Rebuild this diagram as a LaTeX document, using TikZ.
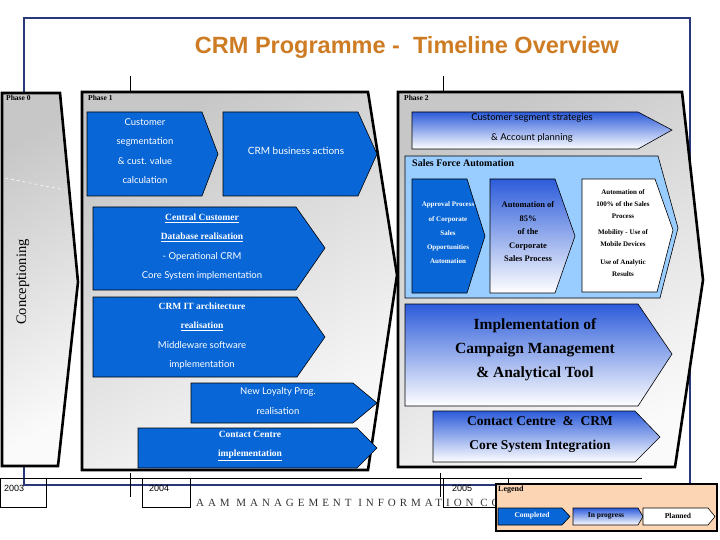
\documentclass[tikz,border=0pt]{standalone}
\usepackage{fontspec}
\setmainfont{Liberation Serif}
\newfontfamily\titlefont{Liberation Sans}
\newfontfamily\lightfont{Lato}
\newfontfamily\footfont[LetterSpace=36]{Liberation Serif}
\usetikzlibrary{shapes,arrows}
\definecolor{navy}{RGB}{40,56,120}
\definecolor{crmorange}{RGB}{206,124,36}
\definecolor{doneblue}{RGB}{8,102,214}
\definecolor{busyblue}{RGB}{45,92,218}
\definecolor{sfablue}{RGB}{153,204,255}
\definecolor{peach}{RGB}{252,214,180}

\begin{document}
\begin{tikzpicture}[x=1pt, y=1pt, line join=miter,
    phasebox/.style={draw=black, line width=2.6pt, top color=black!22, bottom color=black!2, shading angle=30},
    done/.style={draw=black, line width=0.6pt, fill=doneblue},
    busy/.style={draw=black, line width=0.6pt, top color=busyblue, bottom color=white},
    todo/.style={draw=black, line width=0.6pt, fill=white},
    phaselabel/.style={anchor=west, inner sep=0pt, font=\bfseries\fontsize{7.5}{8}\selectfont},
    yearbox/.style={draw=black, line width=0.5pt},
    lighttxt/.style={align=center, inner sep=0pt, text=white, font=\lightfont\fontsize{9.5}{19.3}\selectfont},
    boldtxt/.style={align=center, inner sep=0pt, font=\bfseries}]
  \useasboundingbox (0,0) rectangle (720,-540);
  % Rahmen
  \draw[navy, line width=2.4pt] (24,-18) rectangle (690,-485);
  \node[text=crmorange, font=\titlefont\bfseries\fontsize{23.5}{25}\selectfont] (title) at (407,-47) {CRM Programme -~ Timeline Overview};
  \draw[line width=0.5pt] (0,-478) -- (642,-478);
  \draw[line width=0.5pt] (130,-76) -- (130,-92) (443,-76) -- (443,-92);
  \draw[line width=0.5pt] (130,-473) -- (130,-497) (440,-473) -- (440,-497);

  % Phase 0
  \draw[phasebox] (2,-93) -- (60,-93) -- (78,-282) -- (58,-466) -- (2,-466) -- cycle;
  \draw[white, dashed, line width=0.5pt] (5,-178) -- (65,-190);
  \node[phaselabel] (ph0) at (6,-98) {Phase 0};
  \node[rotate=90, font=\fontsize{14.5}{16}\selectfont] (concept) at (23,-282) {Conceptioning};

  % Phase 1
  \draw[phasebox] (82,-92) -- (368,-92) -- (397,-275) -- (368,-470) -- (82,-470) -- cycle;
  \node[phaselabel] (ph1) at (88,-98) {Phase 1};
  \draw[done] (87,-112) -- (202,-112) -- (218,-154) -- (202,-196) -- (87,-196) -- cycle;
  \node[lighttxt] (segment) at (145,-151) {Customer\\segmentation\\\& cust. value\\calculation};
  \draw[done] (223,-112) -- (358,-112) -- (377,-154) -- (358,-196) -- (223,-196) -- cycle;
  \node[lighttxt, font=\lightfont\fontsize{10}{12}\selectfont] (busact) at (296,-151) {CRM business actions};
  \draw[done] (93,-207) -- (296,-207) -- (325,-248) -- (296,-290) -- (93,-290) -- cycle;
  \node[lighttxt] (ccdb) at (202,-247) {{\rmfamily\bfseries\underline{Central Customer}}\\{\rmfamily\bfseries\underline{Database realisation}}\\- Operational CRM\\Core System implementation};
  \draw[done] (93,-297) -- (297,-297) -- (325,-337) -- (297,-377) -- (93,-377) -- cycle;
  \node[lighttxt] (itarch) at (202,-336) {{\rmfamily\bfseries CRM IT architecture}\\{\rmfamily\bfseries\underline{realisation}}\\Middleware software\\implementation};
  \draw[done] (191,-383) -- (353,-383) -- (377,-403) -- (353,-423) -- (191,-423) -- cycle;
  \node[lighttxt] (loyal) at (278,-401) {New Loyalty Prog.\\realisation};
  \draw[done] (138,-428) -- (357,-428) -- (377,-448) -- (357,-468) -- (138,-468) -- cycle;
  \node[lighttxt, font=\bfseries\fontsize{9.5}{19.3}\selectfont] (ccimpl) at (250,-446) {Contact Centre\\\underline{implementation}};

  % Phase 2
  \draw[phasebox] (398,-92) -- (682,-92) -- (703,-280) -- (675,-467) -- (398,-467) -- cycle;
  \node[phaselabel] (ph2) at (404,-98) {Phase 2};
  \draw[busy] (412,-112) -- (638,-112) -- (672,-130) -- (638,-149) -- (412,-149) -- cycle;
  \node[lighttxt, text=black, font=\lightfont\fontsize{9.5}{20}\selectfont] (segstrat) at (532,-128) {Customer segment strategies\\\& Account planning};
  \draw[draw=black, line width=0.6pt, fill=sfablue] (405,-156) -- (658,-156) -- (678,-228) -- (660,-298) -- (405,-298) -- cycle;
  \node[anchor=west, inner sep=0pt, font=\bfseries\fontsize{10}{12}\selectfont] (sfa) at (412,-163) {Sales Force Automation};
  \draw[done] (412,-179) -- (467,-179) -- (485,-236) -- (467,-293) -- (412,-293) -- cycle;
  \node[boldtxt, text=white, font=\bfseries\fontsize{7}{14.3}\selectfont] (approval) at (448,-233) {Approval Process\\of Corporate\\Sales\\Opportunities\\Automation};
  \draw[busy] (490,-179) -- (555,-179) -- (575,-236) -- (555,-293) -- (490,-293) -- cycle;
  \node[boldtxt, font=\bfseries\fontsize{8.5}{13.5}\selectfont] (auto85) at (528,-232) {Automation of\\85\%\\of the\\Corporate\\Sales Process};
  \draw[todo] (582,-179) -- (655,-179) -- (673,-230) -- (657,-292) -- (582,-292) -- cycle;
  \node[boldtxt, font=\bfseries\fontsize{7}{12}\selectfont] (auto100) at (623,-233) {Automation of\\100\% of the Sales\\Process\\[4pt]Mobility - Use of\\Mobile Devices\\[6pt]Use of Analytic\\Results};
  \draw[busy] (405,-304) -- (638,-304) -- (672,-354) -- (638,-406) -- (405,-406) -- cycle;
  \node[boldtxt, font=\bfseries\fontsize{15.5}{24}\selectfont] (campaign) at (535,-350) {Implementation of\\Campaign Management\\\& Analytical Tool};
  \draw[busy] (433,-411) -- (635,-411) -- (660,-437) -- (635,-462) -- (433,-462) -- cycle;
  \node[boldtxt, font=\bfseries\fontsize{13.5}{24}\selectfont] (ccint) at (540,-434) {Contact Centre~~\&~~CRM\\Core System Integration};

  % Jahre
  \draw[yearbox] (0,-478) rectangle (46,-507);
  \draw[yearbox] (142,-478) rectangle (190,-507);
  \draw[yearbox] (443,-478) rectangle (508,-507);
  \begin{scriptsize}
    \node[anchor=west, inner sep=0pt, font=\titlefont\fontsize{9}{10}\selectfont] (y2003) at (4,-488) {2003};
    \node[anchor=west, inner sep=0pt, font=\titlefont\fontsize{9}{10}\selectfont] (y2004) at (149,-488) {2004};
    \node[anchor=west, inner sep=0pt, font=\titlefont\fontsize{9}{10}\selectfont] (y2005) at (452,-488) {2005};
  \end{scriptsize}
  \node[anchor=west, inner sep=0pt, text=black!80, font=\footfont\fontsize{11}{12}\selectfont] (firm) at (196,-503) {AAM MANAGEMENT INFORMATION CO};

  % Legende
  \draw[draw=black, line width=1.4pt, fill=peach] (496,-484) rectangle (717,-531);
  \node[phaselabel, font=\bfseries\fontsize{8}{9}\selectfont] (legend) at (498,-490) {Legend};
  \draw[done] (498,-508) -- (562,-508) -- (570,-516.5) -- (562,-525) -- (498,-525) -- cycle;
  \node[boldtxt, text=white, font=\bfseries\fontsize{7.5}{9}\selectfont] (lgdone) at (532,-516) {Completed};
  \draw[busy] (573,-508) -- (638,-508) -- (643,-516.5) -- (638,-525) -- (573,-525) -- cycle;
  \node[boldtxt, font=\bfseries\fontsize{7.5}{9}\selectfont] (lgbusy) at (606,-516) {In progress};
  \draw[todo] (643,-508) -- (708,-508) -- (715,-516.5) -- (708,-525) -- (643,-525) -- cycle;
  \node[boldtxt, font=\bfseries\fontsize{7.5}{9}\selectfont] (lgtodo) at (678,-516) {Planned};
\end{tikzpicture}
\end{document}
